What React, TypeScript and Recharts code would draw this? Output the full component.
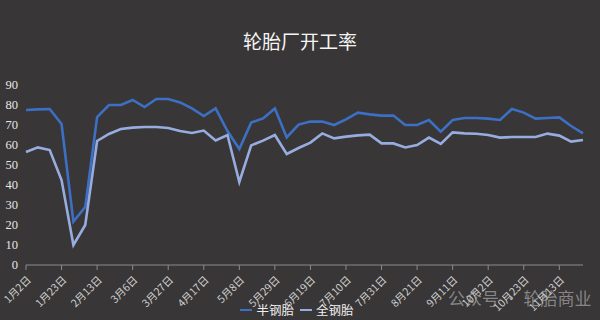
import React from 'react';
import { LineChart, Line, XAxis, YAxis } from 'recharts';

// weekly dates, 2 Jan .. 27 Nov
const weeks = [
  '1月2日', '1月9日', '1月16日', '1月23日', '1月30日', '2月6日', '2月13日', '2月20日',
  '2月27日', '3月6日', '3月13日', '3月20日', '3月27日', '4月3日', '4月10日', '4月17日',
  '4月24日', '5月1日', '5月8日', '5月15日', '5月22日', '5月29日', '6月5日', '6月12日',
  '6月19日', '6月26日', '7月3日', '7月10日', '7月17日', '7月24日', '7月31日', '8月7日',
  '8月14日', '8月21日', '8月28日', '9月4日', '9月11日', '9月18日', '9月25日', '10月2日',
  '10月9日', '10月16日', '10月23日', '10月30日', '11月6日', '11月13日', '11月20日', '11月27日',
];

const semiSteel = [
  77.5, 77.8, 78, 70.5, 21.7, 29, 74, 80, 80, 82.5, 79, 83,
  83, 81.3, 78.3, 74.5, 78.3, 67, 58, 71.2, 73.3, 78.3, 63.8, 70.2,
  71.7, 71.7, 70, 72.8, 76.2, 75.3, 74.7, 74.7, 70, 70, 72.5, 66.7,
  72.5, 73.5, 73.5, 73.2, 72.5, 78, 76.2, 73.2, 73.5, 73.8, 69.5, 65.8,
];

const allSteel = [
  56.5, 58.8, 57.5, 42.5, 10, 20, 62, 65.5, 68, 68.7, 69, 69,
  68.5, 67, 66, 67.2, 62.3, 65, 41.5, 59.8, 62.2, 65, 55.5, 58.5,
  61.2, 65.8, 63.3, 64.2, 64.8, 65.2, 60.8, 60.8, 58.8, 60, 63.7, 60.5,
  66.3, 65.8, 65.6, 65, 63.7, 64, 64, 64, 65.7, 64.7, 61.7, 62.5,
];

const yTicks = [0, 10, 20, 30, 40, 50, 60, 70, 80, 90];

const data = weeks.map((w, i) => ({ week: w, semi: semiSteel[i], all: allSteel[i] }));

const cjk = '"Noto Sans CJK SC", "Noto Sans", sans-serif';

function DateTick({ x, y, payload }: any) {
  return (
    <g transform={`translate(${x + 3},${y + 6})`}>
      <text
        transform="rotate(-45)"
        textAnchor="end"
        dy="0.35em"
        fill="#cfcfcf"
        fontSize={10.5}
        fontFamily={cjk}
      >
        {payload.value}
      </text>
    </g>
  );
}

function LegendBox() {
  const item = (color: string, label: string) => (
    <span style={{ display: 'inline-flex', alignItems: 'center', marginRight: 6 }}>
      <span style={{ display: 'inline-block', width: 12, height: 2.5, background: color, marginRight: 4 }} />
      <span>{label}</span>
    </span>
  );
  return (
    <div
      style={{
        position: 'absolute', top: 296, left: 0, width: 600, color: '#f0f0f0',
        fontSize: 12.5, fontFamily: cjk, textAlign: 'center',
      }}
    >
      {item('#3d6fc4', '半钢胎')}
      {item('#97acdf', '全钢胎')}
    </div>
  );
}

export default function App() {
  return (
    <div
      style={{
        position: 'fixed', left: 0, top: 0, width: 600, height: 320,
        background: '#383636', overflow: 'hidden',
      }}
    >
      <div
        style={{
          position: 'absolute', top: 27, left: 0, width: 600, textAlign: 'center',
          color: '#f4f4f4', fontSize: 19, fontFamily: cjk,
        }}
      >
        轮胎厂开工率
      </div>
      <LineChart width={600} height={320} data={data} margin={{ top: 85, right: 17, left: 0, bottom: 5 }}>
        <XAxis
          dataKey="week"
          interval={2}
          height={50}
          stroke="#8c8c8c"
          tickLine={{ stroke: '#8c8c8c' }}
          tickSize={5}
          tick={<DateTick />}
        />
        <YAxis
          domain={[0, 90]}
          ticks={yTicks}
          interval={0}
          width={26}
          axisLine={false}
          tickLine={false}
          tick={{ fill: '#e6e6e6', fontSize: 12.5, fontFamily: '"Liberation Serif", serif' }}
        />
        <Line dataKey="semi" name="半钢胎" stroke="#3d6fc4" strokeWidth={2.6} dot={false} isAnimationActive={false} />
        <Line dataKey="all" name="全钢胎" stroke="#97acdf" strokeWidth={2.6} dot={false} isAnimationActive={false} />
      </LineChart>
      <LegendBox />
      <div
        style={{
          position: 'absolute', left: 448, top: 285, color: 'rgba(190,190,190,0.6)',
          fontSize: 17, fontFamily: cjk, whiteSpace: 'nowrap',
        }}
      >
        公众号 · 轮胎商业
      </div>
    </div>
  );
}
